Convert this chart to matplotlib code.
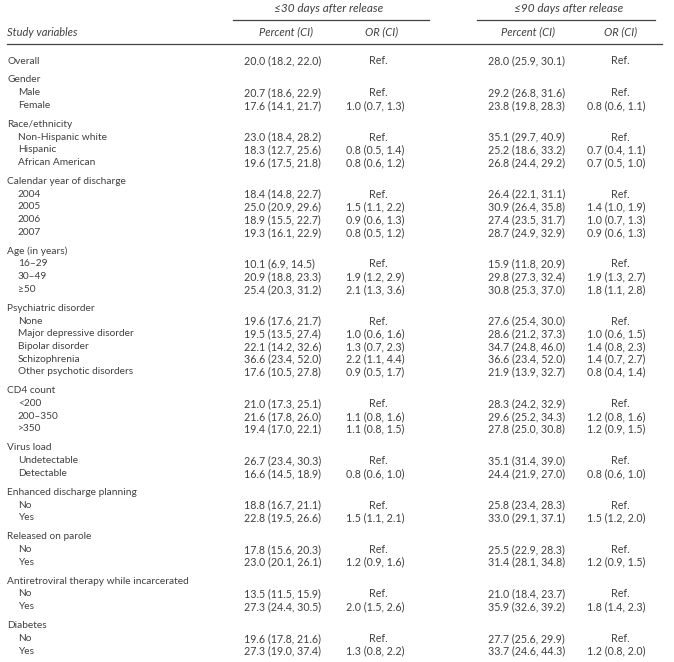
import matplotlib.pyplot as plt

# ---- table content ----
groups = ["Overall", "Gender", "Race/ethnicity", "Calendar year of discharge",
          "Age (in years)", "Psychiatric disorder", "CD4 count", "Virus load",
          "Enhanced discharge planning", "Released on parole",
          "Antiretroviral therapy while incarcerated", "Diabetes"]
levels = [[], ["Male", "Female"],
          ["Non-Hispanic white", "Hispanic", "African American"],
          ["2004", "2005", "2006", "2007"],
          ["16\u201329", "30\u201349", "\u226550"],
          ["None", "Major depressive disorder", "Bipolar disorder",
           "Schizophrenia", "Other psychotic disorders"],
          ["<200", "200\u2013350", ">350"],
          ["Undetectable", "Detectable"],
          ["No", "Yes"], ["No", "Yes"], ["No", "Yes"], ["No", "Yes"]]

# percent (CI) and OR (CI), None = reference category
pct30 = [(20.0, 18.2, 22.0), (20.7, 18.6, 22.9), (17.6, 14.1, 21.7),
         (23.0, 18.4, 28.2), (18.3, 12.7, 25.6), (19.6, 17.5, 21.8),
         (18.4, 14.8, 22.7), (25.0, 20.9, 29.6), (18.9, 15.5, 22.7), (19.3, 16.1, 22.9),
         (10.1, 6.9, 14.5), (20.9, 18.8, 23.3), (25.4, 20.3, 31.2),
         (19.6, 17.6, 21.7), (19.5, 13.5, 27.4), (22.1, 14.2, 32.6), (36.6, 23.4, 52.0), (17.6, 10.5, 27.8),
         (21.0, 17.3, 25.1), (21.6, 17.8, 26.0), (19.4, 17.0, 22.1),
         (26.7, 23.4, 30.3), (16.6, 14.5, 18.9),
         (18.8, 16.7, 21.1), (22.8, 19.5, 26.6),
         (17.8, 15.6, 20.3), (23.0, 20.1, 26.1),
         (13.5, 11.5, 15.9), (27.3, 24.4, 30.5),
         (19.6, 17.8, 21.6), (27.3, 19.0, 37.4)]
or30 = [None, None, (1.0, 0.7, 1.3),
        None, (0.8, 0.5, 1.4), (0.8, 0.6, 1.2),
        None, (1.5, 1.1, 2.2), (0.9, 0.6, 1.3), (0.8, 0.5, 1.2),
        None, (1.9, 1.2, 2.9), (2.1, 1.3, 3.6),
        None, (1.0, 0.6, 1.6), (1.3, 0.7, 2.3), (2.2, 1.1, 4.4), (0.9, 0.5, 1.7),
        None, (1.1, 0.8, 1.6), (1.1, 0.8, 1.5),
        None, (0.8, 0.6, 1.0),
        None, (1.5, 1.1, 2.1),
        None, (1.2, 0.9, 1.6),
        None, (2.0, 1.5, 2.6),
        None, (1.3, 0.8, 2.2)]
pct90 = [(28.0, 25.9, 30.1), (29.2, 26.8, 31.6), (23.8, 19.8, 28.3),
         (35.1, 29.7, 40.9), (25.2, 18.6, 33.2), (26.8, 24.4, 29.2),
         (26.4, 22.1, 31.1), (30.9, 26.4, 35.8), (27.4, 23.5, 31.7), (28.7, 24.9, 32.9),
         (15.9, 11.8, 20.9), (29.8, 27.3, 32.4), (30.8, 25.3, 37.0),
         (27.6, 25.4, 30.0), (28.6, 21.2, 37.3), (34.7, 24.8, 46.0), (36.6, 23.4, 52.0), (21.9, 13.9, 32.7),
         (28.3, 24.2, 32.9), (29.6, 25.2, 34.3), (27.8, 25.0, 30.8),
         (35.1, 31.4, 39.0), (24.4, 21.9, 27.0),
         (25.8, 23.4, 28.3), (33.0, 29.1, 37.1),
         (25.5, 22.9, 28.3), (31.4, 28.1, 34.8),
         (21.0, 18.4, 23.7), (35.9, 32.6, 39.2),
         (27.7, 25.6, 29.9), (33.7, 24.6, 44.3)]
or90 = [None, None, (0.8, 0.6, 1.1),
        None, (0.7, 0.4, 1.1), (0.7, 0.5, 1.0),
        None, (1.4, 1.0, 1.9), (1.0, 0.7, 1.3), (0.9, 0.6, 1.3),
        None, (1.9, 1.3, 2.7), (1.8, 1.1, 2.8),
        None, (1.0, 0.6, 1.5), (1.4, 0.8, 2.3), (1.4, 0.7, 2.7), (0.8, 0.4, 1.4),
        None, (1.2, 0.8, 1.6), (1.2, 0.9, 1.5),
        None, (0.8, 0.6, 1.0),
        None, (1.5, 1.2, 2.0),
        None, (1.2, 0.9, 1.5),
        None, (1.8, 1.4, 2.3),
        None, (1.2, 0.8, 2.0)]

periods = ["\u226430 days after release", "\u226490 days after release"]
col_heads = ["Study variables", "Percent (CI)", "OR (CI)"]

FONT = ["Lato", "DejaVu Sans"]
INK = "#404040"
FS_NUM = 7.7    # numbers
FS_LAB = 7.3    # row labels
FS_HEAD = 8.0   # italic column heads
FS_TOP = 8.5    # period heads


def fmt(v):
    return "%.1f (%.1f, %.1f)" % v


def put(x, y, s, ha="left", style="normal", size=FS_NUM):
    ax.text(x, y, s, ha=ha, va="center", fontsize=size, color=INK,
            family=FONT, fontstyle=style)


fig = plt.figure(figsize=(6.74, 6.62), dpi=100)
ax = fig.add_axes([0, 0, 1, 1])
ax.set_xlim(0, 674)
ax.set_ylim(662, 0)
ax.axis("off")

# header
put(329, 8, periods[0], ha="center", style="italic", size=FS_TOP)
put(569, 8, periods[1], ha="center", style="italic", size=FS_TOP)
ax.plot([233, 429], [19.5, 19.5], color=INK, lw=0.9)
ax.plot([477, 655], [19.5, 19.5], color=INK, lw=0.9)
put(7, 32, col_heads[0], style="italic", size=FS_HEAD)
put(286, 32, col_heads[1], ha="center", style="italic", size=FS_HEAD)
put(382, 32, col_heads[2], ha="center", style="italic", size=FS_HEAD)
put(528, 32, col_heads[1], ha="center", style="italic", size=FS_HEAD)
put(621, 32, col_heads[2], ha="center", style="italic", size=FS_HEAD)
ax.plot([7, 662], [43.5, 43.5], color=INK, lw=0.9)

# body
step, gap = 12.7, 19.0
y = 61
k = 0
for gi, (g, levs) in enumerate(zip(groups, levels)):
    if gi > 0:
        y += gap
    put(7, y, g, size=FS_LAB)
    rows = [y] if not levs else []
    for lv in levs:
        y += step
        put(18, y, lv, size=FS_LAB)
        rows.append(y)
    for yy in rows:
        put(244, yy, fmt(pct30[k]))
        put(488, yy, fmt(pct90[k]))
        if or30[k] is None:
            put(378, yy, "Ref.", ha="center")
        else:
            put(346, yy, fmt(or30[k]))
        if or90[k] is None:
            put(620, yy, "Ref.", ha="center")
        else:
            put(587, yy, fmt(or90[k]))
        k += 1

fig.savefig("out.png", dpi=100)
